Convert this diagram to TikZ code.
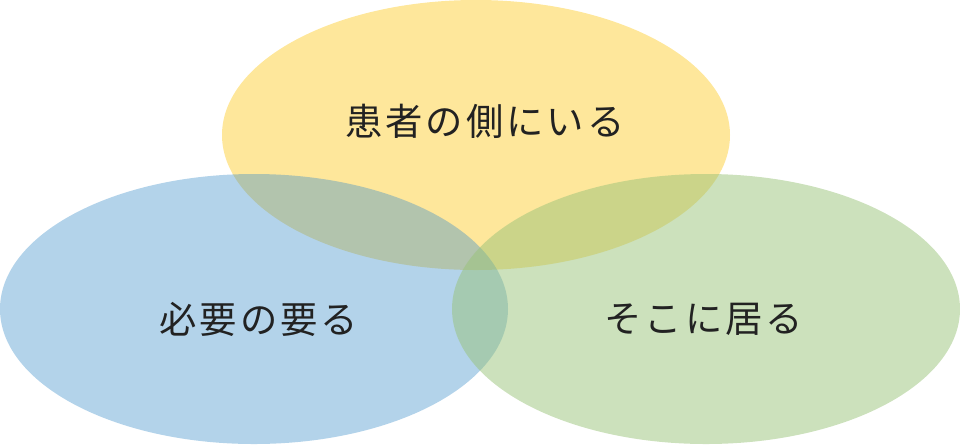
\documentclass[tikz,border=0pt]{standalone}
\usepackage{fontspec}
\newfontfamily\jpfont[LetterSpace=8]{Noto Sans CJK JP}
\definecolor{yel}{RGB}{254,231,155}
\definecolor{blu}{RGB}{65,145,202}
\definecolor{grn}{RGB}{153,195,121}
\definecolor{txt}{RGB}{34,34,34}
\begin{document}
\begin{tikzpicture}[x=0.75pt,y=-0.75pt,
  lbl/.style={text=txt,font=\jpfont\fontsize{28pt}{30pt}\selectfont,inner sep=0pt}]
\useasboundingbox (0,0) rectangle (960,444);
\fill[yel] (476,135) ellipse [x radius=254, y radius=135];
\fill[blu,fill opacity=0.4] (254,309) ellipse [x radius=254, y radius=135];
\fill[grn,fill opacity=0.5] (706,309) ellipse [x radius=254, y radius=135];
\node[lbl] (t1) at (485,121) {患者の側にいる};
\node[lbl] (t2) at (259,319) {必要の要る};
\node[lbl] (t3) at (704,319) {そこに居る};
\end{tikzpicture}
\end{document}
